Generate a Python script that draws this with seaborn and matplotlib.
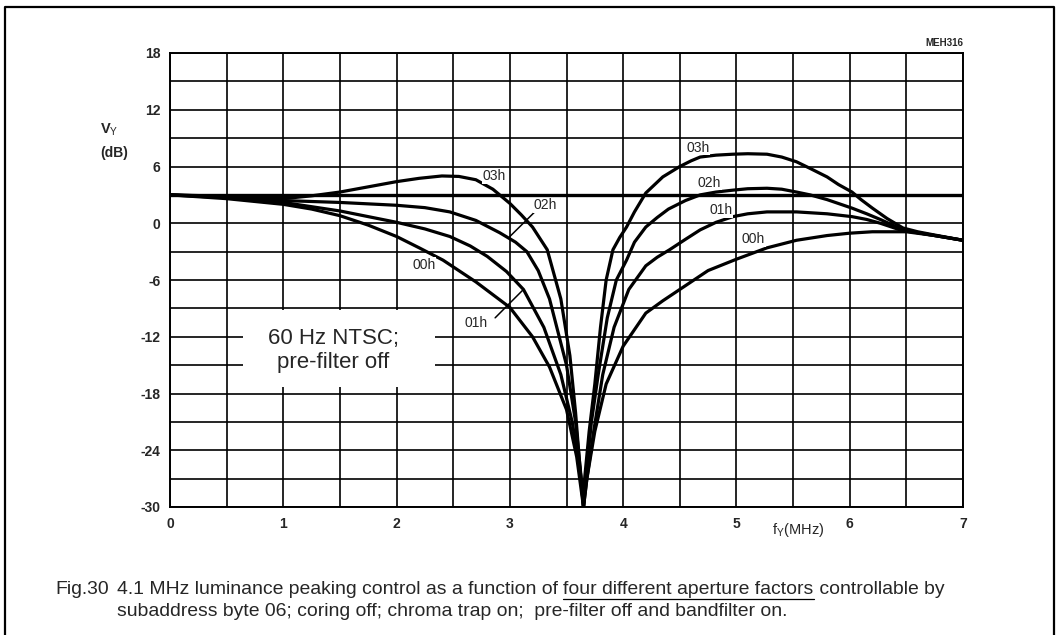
import numpy as np
import pandas as pd
import matplotlib
matplotlib.use("Agg")
import matplotlib.pyplot as plt
import seaborn as sns
from matplotlib.patches import Rectangle
from matplotlib.lines import Line2D

# ---------------- data ----------------
x_03h = [0, 0.5, 1.0, 1.25, 1.5, 1.75, 2.0, 2.2, 2.4, 2.55, 2.7, 2.85, 3.0, 3.1, 3.2, 3.33, 3.45, 3.53, 3.58, 3.62, 3.65,
         3.66, 3.70, 3.75, 3.80, 3.85, 3.91, 3.97, 4.03, 4.1, 4.2, 4.35, 4.5, 4.6, 4.68, 4.82, 4.97, 5.1, 5.27, 5.4,
         5.53, 5.65, 5.8, 5.9, 6.02, 6.1, 6.2, 6.33, 6.47, 6.6, 6.73, 7.0]
y_03h = [3.0, 2.85, 2.6, 2.9, 3.3, 3.85, 4.4, 4.75, 5.0, 4.95, 4.6, 3.6, 2.1, 0.9, -0.4, -2.8, -8, -14, -20, -26, -30,
         -27, -22, -17, -11, -6, -2.8, -1.5, -0.4, 1.2, 3.2, 4.9, 6.0, 6.6, 7.0, 7.2, 7.3, 7.35, 7.3, 7.0,
         6.5, 5.8, 4.9, 4.1, 3.3, 2.5, 1.6, 0.5, -0.5, -0.9, -1.2, -1.8]

x_02h = [0, 0.5, 1.0, 1.5, 2.0, 2.25, 2.47, 2.7, 2.91, 3.05, 3.15, 3.25, 3.35, 3.5, 3.58, 3.63, 3.65,
         3.67, 3.72, 3.78, 3.86, 3.94, 4.03, 4.1, 4.2, 4.3, 4.4, 4.55, 4.68, 4.82, 4.97, 5.1, 5.27, 5.4, 5.53,
         5.65, 5.8, 6.02, 6.15, 6.27, 6.47, 6.6, 6.75, 7.0]
y_02h = [3.0, 2.8, 2.4, 2.2, 1.9, 1.65, 1.2, 0.3, -1.0, -2.0, -3.0, -5.0, -8, -15, -21, -27, -30,
         -27, -21, -16, -10, -6, -3.9, -2.0, -0.4, 0.6, 1.5, 2.4, 3.0, 3.3, 3.5, 3.65, 3.7, 3.6, 3.3,
         3.0, 2.5, 1.6, 1.0, 0.4, -0.7, -1.0, -1.3, -1.8]

x_01h = [0, 0.5, 1.0, 1.5, 2.0, 2.25, 2.47, 2.65, 2.8, 2.97, 3.12, 3.3, 3.45, 3.55, 3.62, 3.65,
         3.68, 3.74, 3.82, 3.92, 4.05, 4.2, 4.3, 4.41, 4.55, 4.68, 4.82, 4.97, 5.1, 5.27, 5.53, 5.8, 6.02,
         6.15, 6.27, 6.47, 6.6, 6.75, 7.0]
y_01h = [3.0, 2.7, 2.2, 1.3, 0.1, -0.6, -1.4, -2.4, -3.5, -5.1, -7, -11, -16, -21, -26, -30,
         -27, -22, -16, -11, -7, -4.5, -3.6, -2.8, -1.7, -0.7, 0.1, 0.7, 1.0, 1.2, 1.2, 1.0, 0.7,
         0.4, 0.0, -0.8, -1.0, -1.3, -1.8]

x_00h = [0, 0.5, 1.0, 1.25, 1.5, 1.75, 2.0, 2.2, 2.41, 2.7, 3.0, 3.2, 3.35, 3.5, 3.59, 3.65,
         3.68, 3.75, 3.85, 4.0, 4.2, 4.35, 4.5, 4.75, 5.0, 5.27, 5.53, 5.8, 6.0, 6.2, 6.5, 6.75, 7.0]
y_00h = [3.0, 2.6, 2.0, 1.5, 0.8, -0.2, -1.4, -2.6, -3.9, -6.2, -8.9, -12.0, -15.2, -19.7, -24.7, -30,
         -27, -22, -17, -13, -9.5, -8.2, -7, -5, -3.8, -2.6, -1.8, -1.3, -1.05, -0.9, -0.9, -1.3, -1.8]

series_names = ["03h", "02h", "01h", "00h"]
series_x = [x_03h, x_02h, x_01h, x_00h]
series_y = [y_03h, y_02h, y_01h, y_00h]

ref_level_db = 3.0
x_ticks = [0, 1, 2, 3, 4, 5, 6, 7]
y_ticks = [-30, -24, -18, -12, -6, 0, 6, 12, 18]

# curve labels: (text, x, y)
curve_labels = [("03h", 2.86, 5.0), ("02h", 3.31, 1.9), ("01h", 2.70, -10.5), ("00h", 2.24, -4.4),
                ("03h", 4.66, 8.0), ("02h", 4.76, 4.3), ("01h", 4.86, 1.4), ("00h", 5.15, -1.7)]

# ---------------- figure ----------------
sns.set_style("white")
plt.rcParams["font.family"] = ["Liberation Sans", "DejaVu Sans"]
plt.rcParams["axes.unicode_minus"] = False
plt.rcParams["mathtext.fontset"] = "custom"
plt.rcParams["mathtext.rm"] = "Liberation Sans"
plt.rcParams["mathtext.it"] = "Liberation Sans:italic"
plt.rcParams["mathtext.bf"] = "Liberation Sans:bold"

W, H = 1056, 635
fig = plt.figure(figsize=(W / 100, H / 100), dpi=100)
ax = fig.add_axes([170 / W, 1 - 507 / H, (963 - 170) / W, (507 - 53) / H])

frames = []
for name, xs, ys in zip(series_names, series_x, series_y):
    frames.append(pd.DataFrame({"f": xs, "v": ys, "s": name}))
df = pd.concat(frames, ignore_index=True)

for name in series_names:
    sub = df[df["s"] == name]
    sns.lineplot(data=sub, x="f", y="v", ax=ax, color="black", lw=2.3,
                 estimator=None, sort=False, zorder=4, legend=False)
for ln in ax.get_lines():
    ln.set_solid_joinstyle("round")

ax.axhline(ref_level_db, color="black", lw=2.4, zorder=3)

ax.set_xlim(0, 7)
ax.set_ylim(-30, 18)
ax.set_xticks(x_ticks)
ax.set_xticks(np.arange(0.5, 7, 1.0), minor=True)
ax.set_yticks(y_ticks)
ax.set_yticks(np.arange(-27, 18, 6), minor=True)
ax.grid(True, which="both", color="black", lw=1.2, zorder=1)
ax.set_axisbelow(True)
ax.tick_params(which="both", length=0)
ax.tick_params(axis="x", pad=7)
ax.tick_params(axis="y", pad=7)
for lbl in ax.get_xticklabels() + ax.get_yticklabels():
    lbl.set_fontweight("bold")
    lbl.set_fontsize(10)
for sp in ax.spines.values():
    sp.set_color("black")
    sp.set_linewidth(1.4)
ax.set_xlabel("")
ax.set_ylabel("")

# white box with condition text
ax.add_patch(Rectangle((0.64, -17.3), 1.70, 8.1, facecolor="white", edgecolor="none", zorder=2))
ax.text(1.44, -12.2, "60 Hz NTSC;", ha="center", va="center", fontsize=16, zorder=5)
ax.text(1.44, -14.7, "pre-filter off", ha="center", va="center", fontsize=16, zorder=5)

# curve labels
for t, xx, yy in curve_labels:
    ax.text(xx, yy, t, ha="center", va="center", fontsize=10, zorder=5,
            bbox=dict(facecolor="white", edgecolor="none", pad=0.5))

# leader lines
ax.plot([3.22, 3.0], [1.2, -1.4], color="black", lw=1.1, zorder=4)
ax.plot([2.87, 3.12], [-10.0, -7.0], color="black", lw=1.1, zorder=4)

# axis titles
fig.text(100 / W, 1 - 130 / H, "V$_\\mathrm{Y}$", fontsize=10.5, fontweight="bold", va="center", ha="left")
fig.text(100 / W, 1 - 153 / H, "(dB)", fontsize=10, fontweight="bold", va="center", ha="left")
fig.text(772 / W, 1 - 530 / H, "f$_\\mathrm{Y}$(MHz)", fontsize=10.5, va="center", ha="left")
fig.text(963 / W, 1 - 43 / H, "MEH316", fontsize=7, fontweight="bold", va="center", ha="right")

# figure border (top, left, right)
fig.add_artist(Line2D([5 / W, 5 / W, 1054 / W, 1054 / W], [0, 1 - 7 / H, 1 - 7 / H, 0],
                      transform=fig.transFigure, color="black", lw=1.6))

# caption: fit line 1 to the reference width
fig.canvas.draw()
renderer = fig.canvas.get_renderer()
parts = ["4.1 MHz luminance peaking control as a function of ", "four different aperture factors",
         " controllable by"]
probe = fig.text(0, 0, "".join(parts), fontsize=10)
w10 = probe.get_window_extent(renderer).width
probe.remove()
cap_fs = 10 * (830.0 / w10)

x0 = 117 / W
y1 = 1 - 589 / H
y2 = 1 - 612 / H
fig.text(x0 - 8 / W, y1, "Fig.30", fontsize=cap_fs, va="center", ha="right")
xc = x0
for i, p in enumerate(parts):
    t = fig.text(xc, y1, p, fontsize=cap_fs, va="center", ha="left")
    bb = t.get_window_extent(renderer)
    w = bb.width / W
    if i == 1:
        fig.add_artist(Line2D([xc, xc + w], [y1 - 10 / H, y1 - 10 / H], transform=fig.transFigure,
                              color="black", lw=0.9))
    xc += w
fig.text(x0, y2, "subaddress byte 06; coring off; chroma trap on;  pre-filter off and bandfilter on.",
         fontsize=cap_fs, va="center", ha="left")

fig.savefig("out.png", dpi=100)
